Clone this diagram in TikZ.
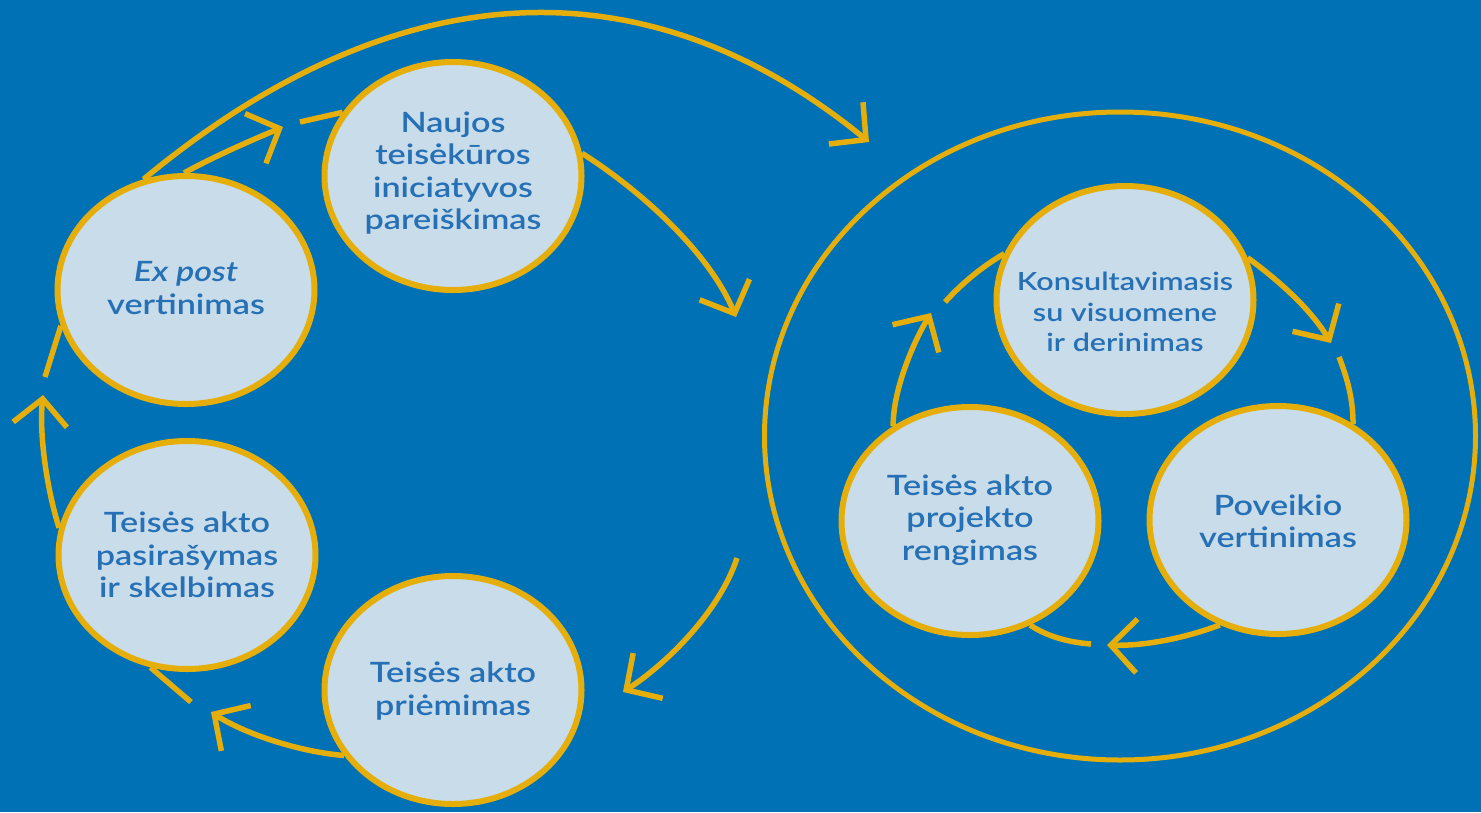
\documentclass[tikz,border=0pt]{standalone}
\usepackage{fontspec}
\setmainfont{Lato}[FakeStretch=1.22,BoldFont={Lato Semibold},BoldItalicFont={Lato Semibold Italic}]
\usetikzlibrary{shapes.geometric,arrows.meta}
\definecolor{bg}{HTML}{0071B5}
\definecolor{gold}{HTML}{E5AE0A}
\definecolor{bubblefill}{HTML}{C9DCEA}
\definecolor{txtblue}{HTML}{2670B6}
\begin{document}
\begin{tikzpicture}[x=1pt,y=-1pt,
  bubble/.style={ellipse, draw=gold, line width=6pt, fill=bubblefill, minimum width=257pt, minimum height=228pt, inner sep=0pt},
  outerring/.style={ellipse, draw=gold, line width=5pt, minimum width=711pt, minimum height=648pt, inner sep=0pt},
  txt/.style={text=txtblue, font=\fontsize{28}{32.5}\selectfont\bfseries, align=center, inner sep=0pt},
  smalltxt/.style={txt, font=\fontsize{25}{30.5}\selectfont\bfseries},
  conn/.style={draw=gold, line width=5.5pt},
  arr/.style={conn, -{Straight Barb[length=26pt,width=54pt]}},
]
\fill[bg] (0,0) rectangle (1481,812);
\useasboundingbox (0,0) rectangle (1481,812);

% left cycle
\node[bubble] (nj) at (453,176) {};
\node[bubble] (ex) at (186,290) {};
\node[bubble] (ps) at (187,555) {};
\node[bubble] (pr) at (453,690) {};
% right cycle
\node[outerring] (cyc) at (1120,436) {};
\node[bubble] (ks) at (1125,300) {};
\node[bubble] (tp) at (970,521) {};
\node[bubble] (pv) at (1278,520) {};

% texts
\node[txt] (njt) at (453,173) {Naujos\\teisėkūros\\iniciatyvos\\pareiškimas};
\node[txt] (ext) at (186,288) {\textit{Ex post}\\vertinimas};
\node[txt] (pst) at (187,555) {Teisės akto\\pasirašymas\\ir skelbimas};
\node[txt] (prt) at (453,691) {Teisės akto\\priėmimas};
\node[smalltxt] (kst) at (1125,312) {Konsultavimasis\\su visuomene\\ir derinimas};
\node[txt] (tpt) at (970,520) {Teisės akto\\projekto\\rengimas};
\node[txt] (pvt) at (1278,521) {Poveikio\\vertinimas};

% free ends
\coordinate (aTip) at (283,127);
\coordinate (aCont) at (300,122);
\coordinate (bTip) at (736,317);
\coordinate (cStart) at (737,558);
\coordinate (cTip) at (623,692);
\coordinate (dTip) at (211,712);
\coordinate (dCont) at (191,702);
\coordinate (eTip) at (43,395);
\coordinate (eCont) at (45,377);
\coordinate (fTip) at (869,142);
\coordinate (gTip) at (1331,343);
\coordinate (hStart) at (1339,357);
\coordinate (iTip) at (1107,645);
\coordinate (iCont) at (1091,644);
\coordinate (jTip) at (931,313);
\coordinate (jCont) at (945,302);

% left connectors
\draw[arr] (ex.91) .. controls (215,156) and (252,140) .. (aTip);
\draw[conn] (aCont) -- (nj.150);
\draw[arr] (nj.10) .. controls (640,190) and (709,252) .. (bTip);
\draw[arr] (cStart) .. controls (720,610) and (669,662) .. (cTip);
\draw[arr] (pr.211) .. controls (300,752) and (245,734) .. (dTip);
\draw[conn] (dCont) -- (ps.252);
\draw[arr] (ps.168) .. controls (47,490) and (39,435) .. (eTip);
\draw[conn] (eCont) -- (ex.196);
\draw[arr] (ex.111) .. controls (390,-25) and (640,-45) .. (fTip);

% right connectors
\draw[arr] (ks.19) .. controls (1285,285) and (1313,313) .. (gTip);
\draw[conn] (hStart) .. controls (1348,380) and (1353,400) .. (pv.52);
\draw[arr] (pv.241) .. controls (1180,640) and (1140,646) .. (iTip);
\draw[conn] (iCont) .. controls (1065,642) and (1045,635) .. (tp.300);
\draw[arr] (tp.129) .. controls (893,390) and (913,343) .. (jTip);
\draw[conn] (jCont) .. controls (965,280) and (985,265) .. (ks.159);
\end{tikzpicture}
\end{document}
